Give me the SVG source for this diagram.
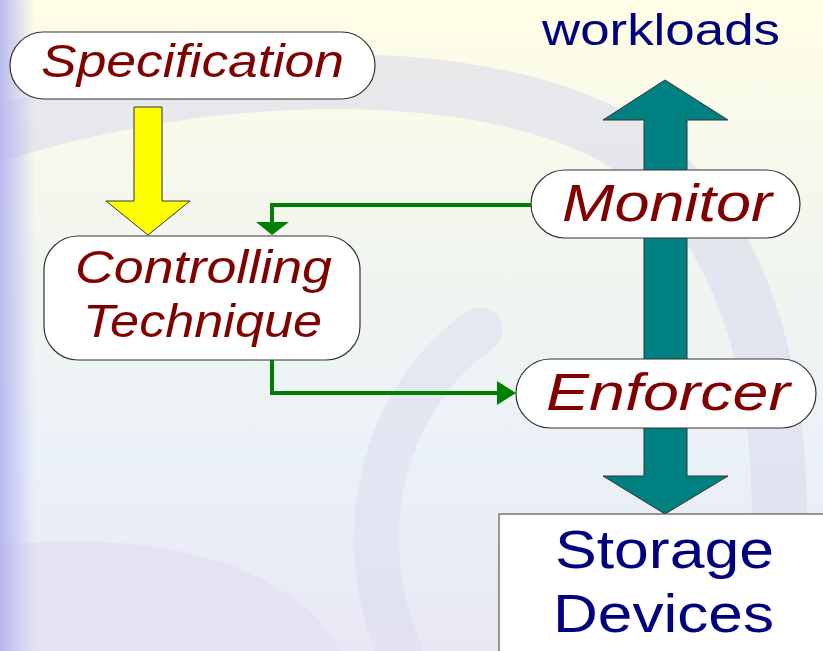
<svg xmlns="http://www.w3.org/2000/svg" width="823" height="651" viewBox="0 0 823 651">
<defs>
<linearGradient id="bg" x1="0" y1="0" x2="0" y2="1">
<stop offset="0" stop-color="#fffee6"/>
<stop offset="0.35" stop-color="#f2f6ee"/>
<stop offset="0.7" stop-color="#ebf1f8"/>
<stop offset="1" stop-color="#e8e8f4"/>
</linearGradient>
<linearGradient id="edge" x1="0" y1="0" x2="1" y2="0">
<stop offset="0" stop-color="#b4b4f0" stop-opacity="0.9"/>
<stop offset="1" stop-color="#b4b4f0" stop-opacity="0"/>
</linearGradient>
<style>
.pill{fill:#ffffff;stroke:#333333;stroke-width:1.2}
.lbl{font-family:"Liberation Sans",Arial,sans-serif;font-style:italic;fill:#800000}
.blue{font-family:"Liberation Sans",Arial,sans-serif;fill:#000080}
.green{fill:none;stroke:#008000;stroke-width:4}
.gh{fill:#008000}
</style>
</defs>
<g id="background">
<rect x="0" y="0" width="823" height="651" fill="url(#bg)"/>
<path d="M -20 140 C 150 80 430 50 600 130 C 760 210 800 420 770 651" fill="none" stroke="#d8d8ec" stroke-opacity="0.55" stroke-width="55"/>
<path d="M 400 651 C 350 540 380 400 480 330" fill="none" stroke="#dcdcee" stroke-opacity="0.5" stroke-width="45" stroke-linecap="round"/>
<path d="M 0 545 C 150 530 290 560 340 651 L 0 651 Z" fill="#e2e0f2" fill-opacity="0.8"/>
<rect x="0" y="0" width="35" height="651" fill="url(#edge)"/>
</g>
<g id="connectors">
<polygon points="134,107 162,107 162,201 190,201 148,235 106,201 134,201" fill="#ffff00" stroke="#333333" stroke-width="1"/>
<polygon points="665,80 728,120 687,120 687,476 728,476 665,514 603,476 644,476 644,120 603,120" fill="#008080" stroke="#333333" stroke-width="1"/>
<polyline class="green" points="531,205 272,205 272,223"/>
<polygon class="gh" points="256,222 289,222 272,235"/>
<polyline class="green" points="272,360 272,393 500,393"/>
<polygon class="gh" points="497,381 516,393 497,405"/>
</g>
<g id="workloads">
<text class="blue" x="542" y="45" font-size="45" textLength="238" lengthAdjust="spacingAndGlyphs">workloads</text>
</g>
<g id="specification">
<rect class="pill" x="10" y="32" width="365" height="67" rx="33.5"/>
<text class="lbl" x="41" y="77" font-size="46" textLength="303" lengthAdjust="spacingAndGlyphs">Specification</text>
</g>
<g id="controlling-technique">
<rect class="pill" x="44" y="236" width="316" height="124" rx="34"/>
<text class="lbl" x="75" y="283" font-size="47" textLength="257" lengthAdjust="spacingAndGlyphs">Controlling</text>
<text class="lbl" x="83" y="337" font-size="47" textLength="239" lengthAdjust="spacingAndGlyphs">Technique</text>
</g>
<g id="monitor">
<rect class="pill" x="531" y="170" width="269" height="68" rx="34"/>
<text class="lbl" x="562" y="221" font-size="51" textLength="210" lengthAdjust="spacingAndGlyphs">Monitor</text>
</g>
<g id="enforcer">
<rect class="pill" x="516" y="359" width="300" height="69" rx="34.5"/>
<text class="lbl" x="546" y="410" font-size="52" textLength="244" lengthAdjust="spacingAndGlyphs">Enforcer</text>
</g>
<g id="storage-devices">
<rect x="499" y="514" width="340" height="150" fill="#ffffff" stroke="#555555" stroke-width="1.2"/>
<text class="blue" x="555" y="568" font-size="54" textLength="219" lengthAdjust="spacingAndGlyphs">Storage</text>
<text class="blue" x="553" y="632" font-size="54" textLength="221" lengthAdjust="spacingAndGlyphs">Devices</text>
</g>
</svg>
